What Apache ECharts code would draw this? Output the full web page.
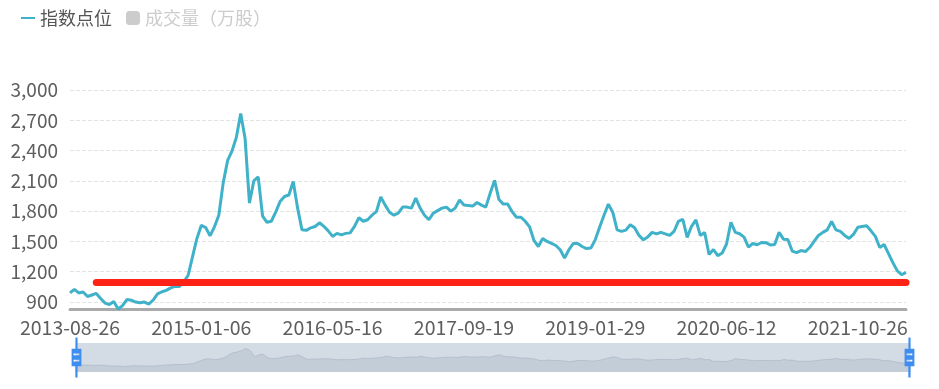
<!DOCTYPE html>
<html>
<head>
<meta charset="utf-8">
<script src="https://cdn.jsdelivr.net/npm/echarts@6/dist/echarts.min.js"></script>
<style>
html,body{margin:0;padding:0;background:#fff;}
#chart{width:939px;height:389px;}
</style>
</head>
<body>
<div id="chart"></div>
<script>
const categories = [
'2013-08-26','2013-09-11','2013-09-27','2013-10-17','2013-11-01','2013-11-18','2013-12-03','2013-12-18','2014-01-03','2014-01-20',
'2014-02-10','2014-02-25','2014-03-12','2014-03-27','2014-04-11','2014-04-28','2014-05-14','2014-05-29','2014-06-16','2014-07-01',
'2014-07-16','2014-07-31','2014-08-15','2014-09-01','2014-09-17','2014-10-08','2014-10-23','2014-11-10','2014-11-26','2014-12-18',
'2015-01-06','2015-01-21','2015-02-05','2015-02-26','2015-03-13','2015-03-30','2015-04-14','2015-04-29','2015-05-15','2015-06-01',
'2015-06-16','2015-07-02','2015-07-17','2015-08-03','2015-08-18','2015-09-02','2015-09-18','2015-10-12','2015-10-27','2015-11-11',
'2015-11-26','2015-12-11','2015-12-28','2016-01-13','2016-01-28','2016-02-17','2016-03-03','2016-03-18','2016-04-05','2016-04-29',
'2016-05-16','2016-05-31','2016-06-17','2016-07-04','2016-07-19','2016-08-03','2016-08-18','2016-09-02','2016-09-21','2016-10-13',
'2016-10-28','2016-11-14','2016-11-29','2016-12-14','2016-12-29','2017-01-16','2017-02-07','2017-02-22','2017-03-09','2017-03-24',
'2017-04-12','2017-04-27','2017-05-15','2017-05-31','2017-06-15','2017-06-30','2017-07-17','2017-08-01','2017-08-16','2017-08-31',
'2017-09-19','2017-10-11','2017-10-26','2017-11-10','2017-11-27','2017-12-12','2017-12-27','2018-01-12','2018-01-29','2018-02-13',
'2018-03-07','2018-03-22','2018-04-09','2018-04-24','2018-05-11','2018-05-28','2018-06-12','2018-06-28','2018-07-13','2018-07-30',
'2018-08-14','2018-08-29','2018-09-13','2018-09-28','2018-10-22','2018-11-06','2018-11-21','2018-12-06','2018-12-21','2019-01-10',
'2019-01-29','2019-02-20','2019-03-07','2019-03-22','2019-04-08','2019-04-23','2019-05-10','2019-05-27','2019-06-11','2019-06-26',
'2019-07-11','2019-07-26','2019-08-12','2019-08-27','2019-09-11','2019-09-27','2019-10-18','2019-11-04','2019-11-19','2019-12-04',
'2019-12-19','2020-01-06','2020-01-21','2020-02-13','2020-02-28','2020-03-16','2020-03-31','2020-04-16','2020-05-06','2020-05-21',
'2020-06-12','2020-06-30','2020-07-15','2020-07-30','2020-08-14','2020-08-31','2020-09-15','2020-09-30','2020-10-22','2020-11-06',
'2020-11-23','2020-12-08','2020-12-23','2021-01-08','2021-01-25','2021-02-09','2021-03-02','2021-03-17','2021-04-01','2021-04-19',
'2021-05-07','2021-05-24','2021-06-08','2021-06-24','2021-07-09','2021-07-26','2021-08-10','2021-08-25','2021-09-09','2021-09-27',
'2021-10-26','2021-11-10','2021-11-25','2021-12-10','2021-12-27','2022-01-12','2022-01-27','2022-02-21','2022-03-08','2022-03-23',
'2022-04-08','2022-04-26'
];

const indexValues = [
990,1025,990,1000,955,970,985,935,890,875,
905,831,865,925,918,900,893,900,880,920,
980,1002,1015,1040,1055,1055,1100,1165,1350,1530,
1660,1638,1555,1645,1760,2080,2300,2395,2530,2768,
2520,1880,2100,2140,1750,1690,1700,1790,1896,1945,
1960,2093,1830,1615,1610,1635,1648,1685,1650,1605,
1550,1580,1565,1580,1585,1650,1735,1700,1715,1760,
1795,1940,1860,1790,1760,1780,1840,1840,1830,1930,
1830,1760,1715,1780,1805,1830,1840,1800,1830,1910,
1860,1855,1850,1886,1860,1840,1978,2105,1915,1870,
1870,1795,1740,1740,1700,1645,1510,1450,1530,1500,
1480,1460,1418,1335,1420,1480,1480,1450,1430,1434,
1516,1640,1760,1870,1790,1615,1600,1612,1665,1635,
1560,1516,1545,1590,1575,1590,1575,1560,1600,1698,
1720,1540,1650,1714,1560,1589,1370,1420,1360,1385,
1475,1690,1590,1576,1543,1444,1480,1467,1490,1488,
1465,1470,1590,1523,1520,1405,1390,1410,1400,1440,
1500,1560,1590,1615,1698,1615,1599,1560,1530,1570,
1640,1648,1655,1605,1550,1440,1470,1380,1290,1210,
1170,1193
];

// hidden (legend-unselected) volume series
const volumeValues = [];

// red support line: start/end dates and level
const supportStart = '2013-12-03';
const supportEnd = '2022-04-26';
const supportLevel = 1100;

const seriesNames = ['指数点位', '成交量（万股）'];

const FONT = '"Noto Sans CJK SC", "Noto Sans", sans-serif';

const chart = echarts.init(document.getElementById('chart'), null, {renderer: 'canvas'});
chart.setOption({
  animation: false,
  textStyle: {fontFamily: FONT},
  legend: {
    left: 16,
    top: 4,
    itemWidth: 14,
    itemHeight: 14,
    itemGap: 14,
    data: [
      {name: seriesNames[0], icon: 'path://M0,0H28V4H0Z'},
      {name: seriesNames[1], icon: 'roundRect'}
    ],
    selected: {'成交量（万股）': false},
    textStyle: {fontSize: 18, color: '#555', fontFamily: FONT},
    inactiveColor: '#ccc'
  },
  grid: {left: 70, right: 33, top: 90, bottom: 80, containLabel: false},
  xAxis: {
    type: 'category',
    data: categories,
    boundaryGap: false,
    axisLine: {show: true, lineStyle: {color: '#aaa', width: 3}},
    axisTick: {show: false},
    axisLabel: {interval: 29, fontSize: 19.5, color: '#5e5e5e', margin: 9, fontFamily: FONT},
    splitLine: {show: false}
  },
  yAxis: {
    type: 'value',
    min: 'dataMin',
    axisLine: {show: false},
    axisTick: {show: false},
    axisLabel: {fontSize: 19, color: '#5e5e5e', margin: 12, showMinLabel: false, fontFamily: FONT},
    splitLine: {show: true, lineStyle: {type: 'dashed', color: '#e3e3e3', width: 1}}
  },
  dataZoom: [{
    type: 'slider',
    xAxisIndex: 0,
    start: 0,
    end: 100,
    left: 73,
    right: 31,
    top: 343,
    height: 29,
    showDetail: false,
    brushSelect: false,
    moveHandleSize: 0,
    borderColor: 'transparent',
    backgroundColor: 'rgba(47,69,84,0)',
    fillerColor: 'rgba(167,183,204,0.5)',
    handleIcon: 'path://M8.2,13.6V3.9H6.3v9.7H3.1v14.9h3.3v9.7h1.8v-9.7h3.3V13.6H8.2z M9.7,24.4H4.8v-1.4h4.9V24.4z M9.7,19.1H4.8v-1.4h4.9V19.1z',
    handleSize: '138%',
    handleStyle: {color: '#3d8ef0', borderColor: '#3d8ef0', borderWidth: 0},
    dataBackground: {
      lineStyle: {color: '#8f9bab', width: 0.8, opacity: 0.6},
      areaStyle: {color: 'rgba(47,69,84,0.15)', opacity: 1}
    },
    selectedDataBackground: {
      lineStyle: {color: '#8f9bab', width: 0.8, opacity: 0.6},
      areaStyle: {color: 'rgba(47,69,84,0.15)', opacity: 1}
    },
    emphasis: {handleStyle: {color: '#3d8ef0', borderColor: '#3d8ef0'}}
  }],
  series: [
    {
      name: '指数点位',
      type: 'line',
      data: indexValues,
      symbol: 'none',
      smooth: false,
      lineStyle: {color: '#3fb2c9', width: 3},
      itemStyle: {color: '#3fb2c9'},
      markLine: {
        silent: true,
        symbol: ['none', 'none'],
        label: {show: false},
        lineStyle: {color: '#ff2216', width: 7, type: 'solid', cap: 'round'},
        emphasis: {disabled: true},
        data: [[{coord: [supportStart, supportLevel]}, {coord: [supportEnd, supportLevel]}]]
      }
    },
    {
      name: '成交量（万股）',
      type: 'bar',
      data: volumeValues,
      itemStyle: {color: '#9aa'}
    }
  ]
});
</script>
</body>
</html>
